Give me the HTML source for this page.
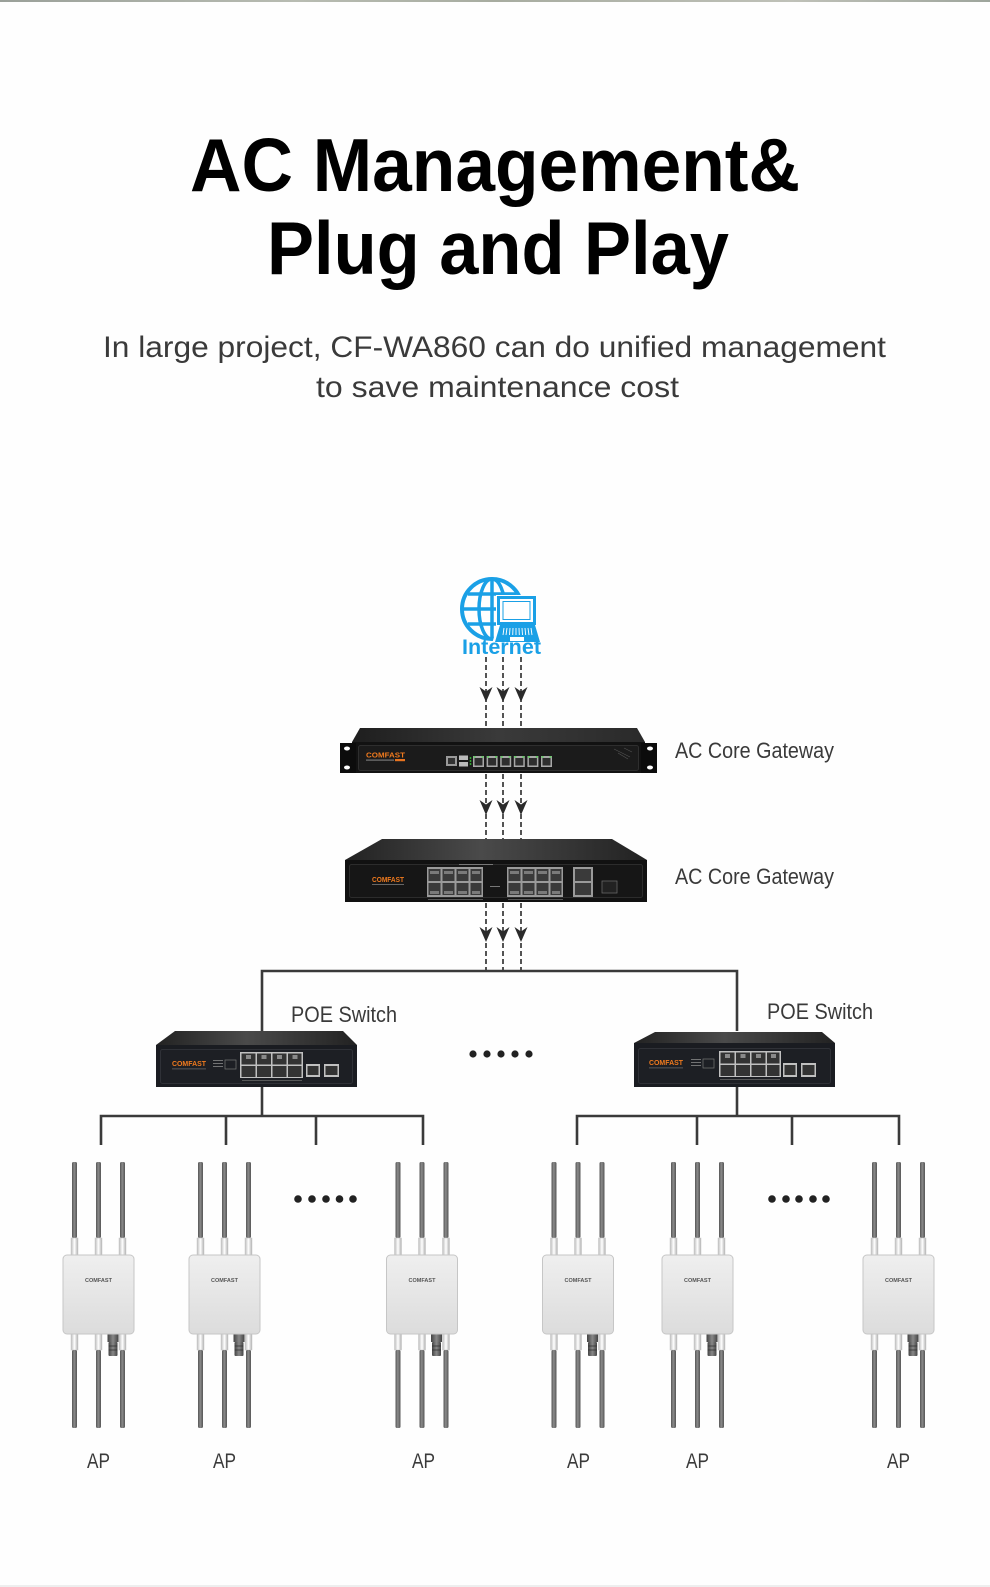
<!DOCTYPE html>
<html>
<head>
<meta charset="utf-8">
<style>
html,body{margin:0;padding:0;background:#fefefe;}
body{width:990px;height:1587px;overflow:hidden;position:relative;}
svg{position:absolute;left:0;top:0;display:block;}
text{font-family:"Liberation Sans",sans-serif;}
</style>
</head>
<body>
<svg width="990" height="1587" viewBox="0 0 990 1587" xmlns="http://www.w3.org/2000/svg">
<defs>
  <linearGradient id="strip" x1="0" x2="1" y1="0" y2="0">
    <stop offset="0" stop-color="#9aa099"/>
    <stop offset="0.3" stop-color="#b8bcb2"/>
    <stop offset="0.5" stop-color="#a7aca0"/>
    <stop offset="0.8" stop-color="#bfc1b8"/>
    <stop offset="1" stop-color="#9ea59c"/>
  </linearGradient>
  <linearGradient id="topface" x1="0" x2="1" y1="0" y2="0">
    <stop offset="0" stop-color="#1e1e1e"/>
    <stop offset="0.5" stop-color="#3a3a3a"/>
    <stop offset="1" stop-color="#2a2a2a"/>
  </linearGradient>
  <linearGradient id="topface2" x1="0" x2="1" y1="0" y2="0">
    <stop offset="0" stop-color="#222"/>
    <stop offset="0.45" stop-color="#4a4a4a"/>
    <stop offset="1" stop-color="#222"/>
  </linearGradient>
  <linearGradient id="ant" x1="0" x2="1" y1="0" y2="0">
    <stop offset="0" stop-color="#555"/>
    <stop offset="0.45" stop-color="#8a8a8a"/>
    <stop offset="1" stop-color="#555"/>
  </linearGradient>
  <linearGradient id="conn" x1="0" x2="1" y1="0" y2="0">
    <stop offset="0" stop-color="#bcbcbc"/>
    <stop offset="0.5" stop-color="#ffffff"/>
    <stop offset="1" stop-color="#b0b0b0"/>
  </linearGradient>
  <linearGradient id="apbox" x1="0" x2="0" y1="0" y2="1">
    <stop offset="0" stop-color="#efefef"/>
    <stop offset="1" stop-color="#dcdcdc"/>
  </linearGradient>
  <linearGradient id="eth" x1="0" x2="1" y1="0" y2="0">
    <stop offset="0" stop-color="#444"/>
    <stop offset="0.5" stop-color="#888"/>
    <stop offset="1" stop-color="#444"/>
  </linearGradient>
  <g id="ap">
    <rect x="-26.5" y="1162" width="5" height="76" rx="1.5" fill="url(#ant)"/>
    <rect x="-2.5" y="1162" width="5" height="76" rx="1.5" fill="url(#ant)"/>
    <rect x="21.5" y="1162" width="5" height="76" rx="1.5" fill="url(#ant)"/>
    <rect x="-27.5" y="1238" width="7" height="17" fill="url(#conn)" stroke="#c4c4c4" stroke-width="0.5"/>
    <rect x="-3.5" y="1238" width="7" height="17" fill="url(#conn)" stroke="#c4c4c4" stroke-width="0.5"/>
    <rect x="20.5" y="1238" width="7" height="17" fill="url(#conn)" stroke="#c4c4c4" stroke-width="0.5"/>
    <rect x="-27.5" y="1334" width="7" height="16" fill="url(#conn)" stroke="#c4c4c4" stroke-width="0.5"/>
    <rect x="-3.5" y="1334" width="7" height="16" fill="url(#conn)" stroke="#c4c4c4" stroke-width="0.5"/>
    <rect x="20.5" y="1334" width="7" height="16" fill="url(#conn)" stroke="#c4c4c4" stroke-width="0.5"/>
    <rect x="-26.5" y="1350" width="5" height="78" rx="1.5" fill="url(#ant)"/>
    <rect x="-2.5" y="1350" width="5" height="78" rx="1.5" fill="url(#ant)"/>
    <rect x="21.5" y="1350" width="5" height="78" rx="1.5" fill="url(#ant)"/>
    <rect x="9" y="1334" width="11" height="8" fill="url(#eth)"/>
    <rect x="10" y="1342" width="9" height="14" rx="1" fill="url(#eth)"/>
    <line x1="10" y1="1346" x2="19" y2="1346" stroke="#333" stroke-width="0.8"/>
    <line x1="10" y1="1350" x2="19" y2="1350" stroke="#333" stroke-width="0.8"/>
    <rect x="-35.5" y="1255" width="71" height="79" rx="4" fill="url(#apbox)" stroke="#c6c6c6" stroke-width="1"/>
  </g>
  <path id="arr" d="M0 0 L-6.5 -15 L0 -10.5 L6.5 -15 Z" fill="#2a2a2a"/>
</defs>

<!-- top strip -->
<rect x="0" y="0" width="990" height="2" fill="url(#strip)"/>
<!-- bottom line -->
<rect x="0" y="1585" width="990" height="2" fill="#eeeeee"/>

<!-- Title -->
<text x="190" y="191" font-size="75" font-weight="bold" fill="#000" textLength="610" lengthAdjust="spacingAndGlyphs">AC Management&amp;</text>
<text x="267" y="274" font-size="75" font-weight="bold" fill="#000" textLength="462" lengthAdjust="spacingAndGlyphs">Plug and Play</text>

<text x="103" y="357" font-size="30" fill="#3a3a3a" textLength="783" lengthAdjust="spacingAndGlyphs">In large project, CF-WA860 can do unified management</text>
<text x="316" y="397" font-size="30" fill="#3a3a3a" textLength="363" lengthAdjust="spacingAndGlyphs">to save maintenance cost</text>

<!-- Internet icon -->
<g stroke="#1aa0e6" fill="none">
  <circle cx="492" cy="609" r="30" stroke-width="4"/>
  <ellipse cx="492" cy="609" rx="13" ry="30" stroke-width="3.5"/>
  <line x1="492" y1="579" x2="492" y2="639" stroke-width="3.5"/>
  <line x1="463" y1="609" x2="521" y2="609" stroke-width="3.5"/>
  <line x1="468" y1="594" x2="516" y2="594" stroke-width="3.5"/>
  <line x1="468" y1="624" x2="516" y2="624" stroke-width="3.5"/>
</g>
<!-- laptop -->
<g>
  <rect x="496" y="595" width="41" height="31" fill="#fff"/>
  <polygon points="492,644 543,644 537,623 498,623" fill="#fff"/>
  <rect x="498.5" y="597.5" width="36" height="26" fill="#fff" stroke="#1aa0e6" stroke-width="3"/>
  <rect x="503" y="601.5" width="27" height="18" fill="none" stroke="#1aa0e6" stroke-width="1"/>
  <polygon points="495,642 540,642 535,625 500,625" fill="#1aa0e6"/>
  <g stroke="#fff" stroke-width="0.9">
    <line x1="504" y1="628" x2="503" y2="635"/><line x1="507" y1="628" x2="506" y2="635"/>
    <line x1="510" y1="628" x2="509.5" y2="635"/><line x1="513" y1="628" x2="512.7" y2="635"/>
    <line x1="516" y1="628" x2="516" y2="635"/><line x1="519" y1="628" x2="519.3" y2="635"/>
    <line x1="522" y1="628" x2="522.5" y2="635"/><line x1="525" y1="628" x2="525.7" y2="635"/>
    <line x1="528" y1="628" x2="529" y2="635"/><line x1="531" y1="628" x2="532" y2="635"/>
  </g>
  <rect x="510" y="637" width="14" height="4" fill="#fff"/>
</g>
<text x="462" y="654" font-size="21" font-weight="bold" fill="#1aa0e6" textLength="79" lengthAdjust="spacingAndGlyphs">Internet</text>

<!-- dashed connectors -->
<g stroke="#2a2a2a" stroke-width="1.6" stroke-dasharray="5 3" fill="none">
  <line x1="486" y1="657" x2="486" y2="728"/>
  <line x1="503" y1="657" x2="503" y2="728"/>
  <line x1="521" y1="657" x2="521" y2="728"/>
  <line x1="486" y1="774" x2="486" y2="839"/>
  <line x1="503" y1="774" x2="503" y2="839"/>
  <line x1="521" y1="774" x2="521" y2="839"/>
  <line x1="486" y1="903" x2="486" y2="970"/>
  <line x1="503" y1="903" x2="503" y2="970"/>
  <line x1="521" y1="903" x2="521" y2="970"/>
</g>
<use href="#arr" x="486" y="702"/><use href="#arr" x="503" y="702"/><use href="#arr" x="521" y="702"/>
<use href="#arr" x="486" y="815"/><use href="#arr" x="503" y="815"/><use href="#arr" x="521" y="815"/>
<use href="#arr" x="486" y="942"/><use href="#arr" x="503" y="942"/><use href="#arr" x="521" y="942"/>

<!-- Gateway 1 (rack) -->
<g>
  <polygon points="360,728 637,728 645,742 352,742" fill="url(#topface)"/>
  <rect x="352" y="742" width="293" height="31" fill="#121212"/>
  <rect x="340" y="743" width="16" height="30" fill="#0c0c0c"/>
  <rect x="641" y="743" width="16" height="30" fill="#0c0c0c"/>
  <ellipse cx="347" cy="748.5" rx="3" ry="2" fill="#fff"/>
  <ellipse cx="347" cy="767.5" rx="3" ry="2" fill="#fff"/>
  <ellipse cx="650" cy="748.5" rx="3" ry="2" fill="#fff"/>
  <ellipse cx="650" cy="767.5" rx="3" ry="2" fill="#fff"/>
  <rect x="358.5" y="745.5" width="280" height="25" rx="2" fill="#1b1b1b" stroke="#2e2e2e" stroke-width="1"/>
  <text x="366" y="757.5" font-size="7.5" font-weight="bold" fill="#f07a1e" textLength="39" lengthAdjust="spacingAndGlyphs">COMFAST</text>
  <rect x="366" y="759.5" width="28" height="1.2" fill="#777"/>
  <rect x="395" y="759" width="10" height="2.2" fill="#e8741f"/>
  <rect x="446" y="756" width="11" height="10" fill="#9a9a9a"/>
  <rect x="448" y="758" width="7" height="6" fill="#333"/>
  <rect x="459" y="755.5" width="9" height="4.5" fill="#bbb"/>
  <rect x="459" y="762" width="9" height="4.5" fill="#bbb"/>
  <circle cx="470.5" cy="758" r="0.9" fill="#3c3"/>
  <circle cx="470.5" cy="761" r="0.9" fill="#3c3"/>
  <circle cx="470.5" cy="764" r="0.9" fill="#3c3"/>
  <g>
    <rect x="473" y="756" width="11" height="11" fill="#a8a8a8"/><rect x="474.5" y="758" width="8" height="7.5" fill="#2e2e2e"/><rect x="473.5" y="756.3" width="2" height="1.2" fill="#4d4"/><rect x="481.5" y="756.3" width="2" height="1.2" fill="#4d4"/>
    <rect x="486.6" y="756" width="11" height="11" fill="#a8a8a8"/><rect x="488.1" y="758" width="8" height="7.5" fill="#2e2e2e"/><rect x="487.1" y="756.3" width="2" height="1.2" fill="#4d4"/><rect x="495.1" y="756.3" width="2" height="1.2" fill="#4d4"/>
    <rect x="500.2" y="756" width="11" height="11" fill="#a8a8a8"/><rect x="501.7" y="758" width="8" height="7.5" fill="#2e2e2e"/><rect x="500.7" y="756.3" width="2" height="1.2" fill="#4d4"/><rect x="508.7" y="756.3" width="2" height="1.2" fill="#4d4"/>
    <rect x="513.8" y="756" width="11" height="11" fill="#a8a8a8"/><rect x="515.3" y="758" width="8" height="7.5" fill="#2e2e2e"/><rect x="514.3" y="756.3" width="2" height="1.2" fill="#4d4"/><rect x="522.3" y="756.3" width="2" height="1.2" fill="#4d4"/>
    <rect x="527.4" y="756" width="11" height="11" fill="#a8a8a8"/><rect x="528.9" y="758" width="8" height="7.5" fill="#2e2e2e"/><rect x="527.9" y="756.3" width="2" height="1.2" fill="#4d4"/><rect x="535.9" y="756.3" width="2" height="1.2" fill="#4d4"/>
    <rect x="541" y="756" width="11" height="11" fill="#a8a8a8"/><rect x="542.5" y="758" width="8" height="7.5" fill="#2e2e2e"/><rect x="541.5" y="756.3" width="2" height="1.2" fill="#4d4"/><rect x="549.5" y="756.3" width="2" height="1.2" fill="#4d4"/>
  </g>
  <g stroke="#555" stroke-width="0.6">
    <line x1="614" y1="749" x2="630" y2="757"/><line x1="618" y1="753" x2="628" y2="759"/><line x1="624" y1="748" x2="632" y2="752"/>
  </g>
</g>

<!-- Gateway 2 (16 port switch) -->
<g>
  <polygon points="382,839 612,839 647,860 345,860" fill="url(#topface2)"/>
  <rect x="345" y="860" width="302" height="42" fill="#111"/>
  <rect x="349.5" y="864.5" width="293" height="33" rx="2" fill="#161616" stroke="#2c2c2c" stroke-width="1"/>
  <text x="372" y="882" font-size="7" font-weight="bold" fill="#f07a1e" textLength="32" lengthAdjust="spacingAndGlyphs">COMFAST</text>
  <rect x="372" y="884" width="32" height="1" fill="#666"/>
  <rect x="427" y="867" width="56" height="30" fill="#9a9a9a"/>
  <rect x="507" y="867" width="56" height="30" fill="#9a9a9a"/>
  <g fill="#3a3a3a">
    <rect x="428.5" y="869" width="12" height="12"/><rect x="442.5" y="869" width="12" height="12"/><rect x="456.5" y="869" width="12" height="12"/><rect x="470.5" y="869" width="11" height="12"/>
    <rect x="428.5" y="883" width="12" height="12"/><rect x="442.5" y="883" width="12" height="12"/><rect x="456.5" y="883" width="12" height="12"/><rect x="470.5" y="883" width="11" height="12"/>
    <rect x="508.5" y="869" width="12" height="12"/><rect x="522.5" y="869" width="12" height="12"/><rect x="536.5" y="869" width="12" height="12"/><rect x="550.5" y="869" width="11" height="12"/>
    <rect x="508.5" y="883" width="12" height="12"/><rect x="522.5" y="883" width="12" height="12"/><rect x="536.5" y="883" width="12" height="12"/><rect x="550.5" y="883" width="11" height="12"/>
  </g>
  <g fill="#7a7a7a">
    <rect x="430" y="871" width="9" height="3"/><rect x="444" y="871" width="9" height="3"/><rect x="458" y="871" width="9" height="3"/><rect x="472" y="871" width="8" height="3"/>
    <rect x="510" y="871" width="9" height="3"/><rect x="524" y="871" width="9" height="3"/><rect x="538" y="871" width="9" height="3"/><rect x="552" y="871" width="8" height="3"/>
    <rect x="430" y="891" width="9" height="3"/><rect x="444" y="891" width="9" height="3"/><rect x="458" y="891" width="9" height="3"/><rect x="472" y="891" width="8" height="3"/>
    <rect x="510" y="891" width="9" height="3"/><rect x="524" y="891" width="9" height="3"/><rect x="538" y="891" width="9" height="3"/><rect x="552" y="891" width="8" height="3"/>
  </g>
  <rect x="573" y="867" width="20" height="30" fill="#9a9a9a"/>
  <rect x="575" y="869" width="16" height="12" fill="#3a3a3a"/>
  <rect x="575" y="883" width="16" height="12" fill="#3a3a3a"/>
  <rect x="602" y="881" width="15" height="12" fill="#222" stroke="#666" stroke-width="0.8"/>
  <rect x="459" y="864" width="34" height="1" fill="#777"/>
  <rect x="490" y="886" width="10" height="1" fill="#777"/>
  <rect x="428" y="899" width="55" height="0.8" fill="#666"/>
  <rect x="508" y="899" width="55" height="0.8" fill="#666"/>
</g>

<!-- labels -->
<text x="675" y="758" font-size="22" fill="#3a3a3a" textLength="159" lengthAdjust="spacingAndGlyphs">AC Core Gateway</text>
<text x="675" y="884" font-size="22" fill="#3a3a3a" textLength="159" lengthAdjust="spacingAndGlyphs">AC Core Gateway</text>
<text x="291" y="1022" font-size="22" fill="#3a3a3a" textLength="106" lengthAdjust="spacingAndGlyphs">POE Switch</text>
<text x="767" y="1019" font-size="22" fill="#3a3a3a" textLength="106" lengthAdjust="spacingAndGlyphs">POE Switch</text>

<!-- tree lines -->
<g stroke="#3a3a3a" stroke-width="2.6" fill="none">
  <polyline points="262,1031 262,971 737,971 737,1031"/>
  <line x1="262" y1="1087" x2="262" y2="1116"/>
  <line x1="737" y1="1087" x2="737" y2="1116"/>
  <polyline points="101,1145 101,1116 423,1116 423,1145"/>
  <line x1="226" y1="1116" x2="226" y2="1145"/>
  <line x1="316" y1="1116" x2="316" y2="1145"/>
  <polyline points="577,1145 577,1116 899,1116 899,1145"/>
  <line x1="697" y1="1116" x2="697" y2="1145"/>
  <line x1="792" y1="1116" x2="792" y2="1145"/>
</g>

<!-- POE switch left -->
<g transform="translate(156,1031)">
  <polygon points="19,0 187,0 201,14 0,14" fill="url(#topface2)"/>
  <rect x="0" y="14" width="201" height="42" fill="#1a1c21"/>
  <rect x="4.5" y="18.5" width="192" height="34" rx="2" fill="#1d1f24" stroke="#2f3137" stroke-width="1"/>
  <text x="16" y="35" font-size="7" font-weight="bold" fill="#f07a1e" textLength="34" lengthAdjust="spacingAndGlyphs">COMFAST</text>
  <rect x="16" y="37.5" width="34" height="0.8" fill="#666"/>
  <rect x="57" y="29" width="10" height="0.8" fill="#888"/><rect x="57" y="32" width="10" height="0.8" fill="#888"/><rect x="57" y="35" width="10" height="0.8" fill="#888"/>
  <rect x="69" y="29" width="11" height="9" fill="none" stroke="#777" stroke-width="0.7"/>
  <rect x="84" y="21" width="63" height="26" fill="#c0c0c0"/>
  <g fill="#333">
    <rect x="85.5" y="22.5" width="14" height="11"/><rect x="101" y="22.5" width="14" height="11"/><rect x="116.5" y="22.5" width="14" height="11"/><rect x="132" y="22.5" width="13.5" height="11"/>
    <rect x="85.5" y="35" width="14" height="11"/><rect x="101" y="35" width="14" height="11"/><rect x="116.5" y="35" width="14" height="11"/><rect x="132" y="35" width="13.5" height="11"/>
  </g>
  <g fill="#8a8a8a">
    <rect x="90" y="24" width="5" height="4"/><rect x="105.5" y="24" width="5" height="4"/><rect x="121" y="24" width="5" height="4"/><rect x="136.5" y="24" width="5" height="4"/>
  </g>
  <rect x="150" y="33" width="14" height="13" fill="#c0c0c0"/><rect x="151.5" y="35" width="11" height="9" fill="#333"/>
  <rect x="168" y="33" width="15" height="13" fill="#c0c0c0"/><rect x="169.5" y="35" width="12" height="9" fill="#333"/>
  <rect x="86" y="49" width="60" height="0.8" fill="#666"/>
</g>

<!-- POE switch right -->
<g transform="translate(634,1031)">
  <polygon points="21,1 188,1 201,12 0,12" fill="url(#topface2)"/>
  <rect x="0" y="12" width="201" height="44" fill="#1a1c21"/>
  <rect x="4.5" y="17.5" width="192" height="35" rx="2" fill="#1d1f24" stroke="#2f3137" stroke-width="1"/>
  <text x="15" y="34" font-size="7" font-weight="bold" fill="#f07a1e" textLength="34" lengthAdjust="spacingAndGlyphs">COMFAST</text>
  <rect x="15" y="36.5" width="34" height="0.8" fill="#666"/>
  <rect x="57" y="28" width="10" height="0.8" fill="#888"/><rect x="57" y="31" width="10" height="0.8" fill="#888"/><rect x="57" y="34" width="10" height="0.8" fill="#888"/>
  <rect x="69" y="28" width="11" height="9" fill="none" stroke="#777" stroke-width="0.7"/>
  <rect x="85" y="20" width="62" height="26" fill="#c0c0c0"/>
  <g fill="#333">
    <rect x="86.5" y="21.5" width="14" height="11"/><rect x="102" y="21.5" width="14" height="11"/><rect x="117.5" y="21.5" width="14" height="11"/><rect x="133" y="21.5" width="12.5" height="11"/>
    <rect x="86.5" y="34" width="14" height="11"/><rect x="102" y="34" width="14" height="11"/><rect x="117.5" y="34" width="14" height="11"/><rect x="133" y="34" width="12.5" height="11"/>
  </g>
  <g fill="#8a8a8a">
    <rect x="91" y="23" width="5" height="4"/><rect x="106.5" y="23" width="5" height="4"/><rect x="122" y="23" width="5" height="4"/><rect x="137" y="23" width="5" height="4"/>
  </g>
  <rect x="149" y="32" width="14" height="14" fill="#c0c0c0"/><rect x="150.5" y="34" width="11" height="10" fill="#333"/>
  <rect x="167" y="32" width="15" height="14" fill="#c0c0c0"/><rect x="168.5" y="34" width="12" height="10" fill="#333"/>
  <rect x="86" y="48" width="60" height="0.8" fill="#666"/>
</g>

<!-- dots -->
<g fill="#222">
  <circle cx="473" cy="1054" r="3.6"/><circle cx="487" cy="1054" r="3.6"/><circle cx="501" cy="1054" r="3.6"/><circle cx="515" cy="1054" r="3.6"/><circle cx="529" cy="1054" r="3.6"/>
  <circle cx="298" cy="1199" r="3.8"/><circle cx="312" cy="1199" r="3.8"/><circle cx="326" cy="1199" r="3.8"/><circle cx="339.5" cy="1199" r="3.8"/><circle cx="353" cy="1199" r="3.8"/>
  <circle cx="772" cy="1199" r="3.8"/><circle cx="786" cy="1199" r="3.8"/><circle cx="799" cy="1199" r="3.8"/><circle cx="813" cy="1199" r="3.8"/><circle cx="826" cy="1199" r="3.8"/>
</g>

<!-- APs -->
<use href="#ap" x="98.5" y="0"/>
<use href="#ap" x="224.5" y="0"/>
<use href="#ap" x="422" y="0"/>
<use href="#ap" x="578" y="0"/>
<use href="#ap" x="697.5" y="0"/>
<use href="#ap" x="898.5" y="0"/>
<g font-size="5.5" font-weight="bold" fill="#555" text-anchor="middle">
  <text x="98.5" y="1282">COMFAST</text>
  <text x="224.5" y="1282">COMFAST</text>
  <text x="422" y="1282">COMFAST</text>
  <text x="578" y="1282">COMFAST</text>
  <text x="697.5" y="1282">COMFAST</text>
  <text x="898.5" y="1282">COMFAST</text>
</g>
<g font-size="21" fill="#3a3a3a">
  <text x="87" y="1468" textLength="23" lengthAdjust="spacingAndGlyphs">AP</text>
  <text x="213" y="1468" textLength="23" lengthAdjust="spacingAndGlyphs">AP</text>
  <text x="412" y="1468" textLength="23" lengthAdjust="spacingAndGlyphs">AP</text>
  <text x="567" y="1468" textLength="23" lengthAdjust="spacingAndGlyphs">AP</text>
  <text x="686" y="1468" textLength="23" lengthAdjust="spacingAndGlyphs">AP</text>
  <text x="887" y="1468" textLength="23" lengthAdjust="spacingAndGlyphs">AP</text>
</g>
</svg>
</body>
</html>
